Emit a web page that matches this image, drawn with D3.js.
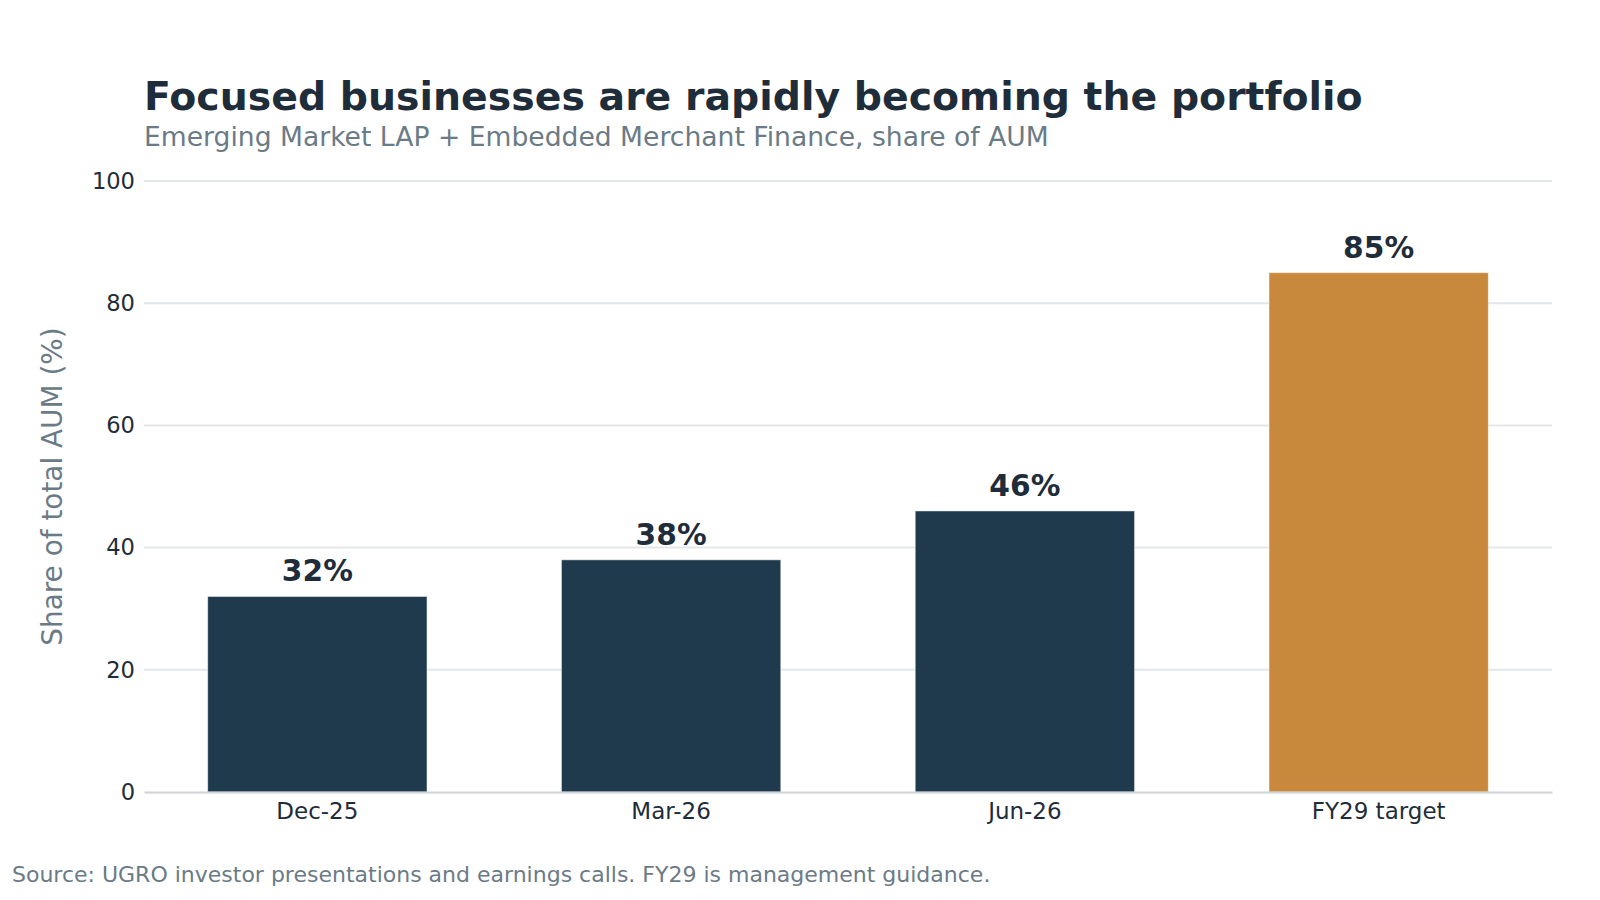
<!DOCTYPE html>
<html>
<head>
<meta charset="utf-8">
<script src="https://cdn.jsdelivr.net/npm/d3@7"></script>
<style>
  body { margin: 0; background: #fff; }
  svg { display: block; font-family: "DejaVu Sans", sans-serif; }
</style>
</head>
<body>
<svg width="1600" height="900"></svg>
<script>
const categories = ["Dec-25", "Mar-26", "Jun-26", "FY29 target"];
const shares = [32, 38, 46, 85];
const barColors = ["#1e3a4c", "#1e3a4c", "#1e3a4c", "#c8893c"];
const yTicks = [0, 20, 40, 60, 80, 100];

const width = 1600, height = 900;
const margin = {top: 181, right: 48, bottom: 108, left: 144};

const svg = d3.select("svg");

const x = d3.scaleBand()
    .domain(categories)
    .range([margin.left, width - margin.right])
    .paddingInner(0.38)
    .paddingOuter(0.18);

const y = d3.scaleLinear()
    .domain([0, 100])
    .range([height - margin.bottom, margin.top]);

// gridlines
svg.append("g")
    .selectAll("line")
    .data(yTicks.filter(d => d > 0))
    .join("line")
    .attr("x1", margin.left)
    .attr("x2", width - margin.right)
    .attr("y1", d => y(d))
    .attr("y2", d => y(d))
    .attr("stroke", "#e3e7ea")
    .attr("stroke-width", 2);

// bars
svg.append("g")
    .selectAll("rect")
    .data(shares)
    .join("rect")
    .attr("x", (d, i) => x(categories[i]))
    .attr("width", x.bandwidth())
    .attr("y", d => y(d))
    .attr("height", d => y(0) - y(d))
    .attr("fill", (d, i) => barColors[i])
    .attr("stroke", "#ffffff")
    .attr("stroke-opacity", 0.5)
    .attr("stroke-width", 1);

// value labels
svg.append("g")
    .selectAll("text")
    .data(shares)
    .join("text")
    .attr("x", (d, i) => x(categories[i]) + x.bandwidth() / 2)
    .attr("y", d => y(d) - 15)
    .attr("text-anchor", "middle")
    .attr("font-size", 29.7)
    .attr("font-weight", "bold")
    .attr("fill", "#1f2d3a")
    .text(d => d + "%");

// y axis
const yAxis = svg.append("g")
    .attr("transform", `translate(${margin.left},0)`)
    .call(d3.axisLeft(y).tickValues(yTicks).tickSize(0).tickPadding(9));
yAxis.select(".domain").remove();
yAxis.selectAll("text")
    .attr("font-size", 22.6)
    .attr("font-family", "DejaVu Sans, sans-serif")
    .attr("fill", "#1f2d3a");

// x axis
const xAxis = svg.append("g")
    .attr("transform", `translate(0,${y(0)})`)
    .call(d3.axisBottom(x).tickSize(0).tickPadding(11));
xAxis.select(".domain")
    .attr("stroke", "#cdd3d8")
    .attr("stroke-width", 2);
xAxis.selectAll("text")
    .attr("font-size", 23)
    .attr("font-family", "DejaVu Sans, sans-serif")
    .attr("fill", "#1f2d3a");

// axis title
svg.append("text")
    .attr("transform", `translate(62,${(y(0) + y(100)) / 2}) rotate(-90)`)
    .attr("text-anchor", "middle")
    .attr("font-size", 27.9)
    .attr("fill", "#6b7b86")
    .text("Share of total AUM (%)");

// title and subtitle
svg.append("text")
    .attr("x", 144)
    .attr("y", 110)
    .attr("font-size", 39.4)
    .attr("font-weight", "bold")
    .attr("fill", "#1f2d3a")
    .text("Focused businesses are rapidly becoming the portfolio");

svg.append("text")
    .attr("x", 144)
    .attr("y", 146)
    .attr("font-size", 26.6)
    .attr("fill", "#6b7b86")
    .text("Emerging Market LAP + Embedded Merchant Finance, share of AUM");

// source
svg.append("text")
    .attr("x", 12)
    .attr("y", 882)
    .attr("font-size", 22)
    .attr("fill", "#6b7b86")
    .text("Source: UGRO investor presentations and earnings calls. FY29 is management guidance.");
</script>
</body>
</html>
